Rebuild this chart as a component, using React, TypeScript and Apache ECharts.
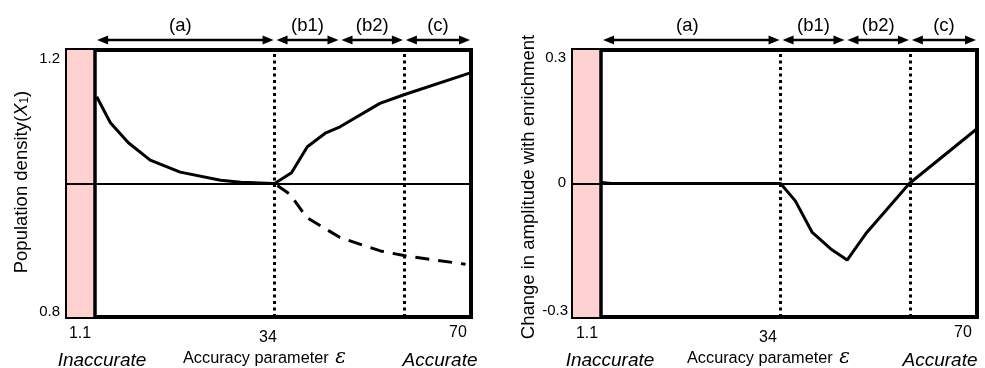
import React, { useEffect, useRef } from "react";
import * as echarts from "echarts";

// ---------- data ----------
const densityEps = [1.4, 3.9, 7.2, 11.2, 16.7, 24.1, 27.8, 33.6, 34, 37.1, 40.0, 43.4, 46, 53.3, 57.7, 70];
const densityUpper = [1.13, 1.091, 1.061, 1.035, 1.017, 1.005, 1.002, 1.0, 1.0, 1.016, 1.055, 1.076, 1.085, 1.12, 1.133, 1.166];
const densityLowerEps = [34.5, 36.8, 39.9, 46, 53.4, 57.7, 69];
const densityLower = [0.997, 0.984, 0.949, 0.919, 0.899, 0.892, 0.879];
const ampEps = [1.1, 3, 34, 36.7, 39.8, 43.2, 46.2, 49.6, 57.6, 70];
const ampChange = [0.002, 0, 0, -0.039, -0.11, -0.147, -0.172, -0.113, 0, 0.123];

const xMin = -4.05;
const xMax = 70;
const inaccurateEdge = 1.1;
const dottedLines = [34, 57.7];
const regionBounds = [1.1, 34, 45.9, 57.7, 70];
const regionLabels = ["(a)", "(b1)", "(b2)", "(c)"];
const xTickLabels = ["1.1", "34", "70"];
const leftYTicks = ["1.2", "0.8"];
const rightYTicks = ["0.3", "0", "-0.3"];

const FONT = "'Liberation Sans', Arial, Helvetica, sans-serif";

export default function App() {
  const ref = useRef<HTMLDivElement>(null);
  useEffect(() => {
    if (!ref.current) return;
    const chart = echarts.init(ref.current, null, { renderer: "svg" });

    const pinkArea = {
      silent: true,
      itemStyle: { color: "#ffd1d1" },
      data: [[{ xAxis: xMin }, { xAxis: inaccurateEdge }]],
    };
    const markLines = (zeroY: number) => ({
      silent: true,
      symbol: "none",
      label: { show: false },
      data: [
        ...dottedLines.map((v) => ({ xAxis: v, lineStyle: { type: [3, 3.5], width: 3, color: "#000" } })),
        { xAxis: inaccurateEdge, lineStyle: { type: "solid", width: 3.5, color: "#000" } },
        { yAxis: zeroY, lineStyle: { type: "solid", width: 1.8, color: "#000" } },
      ],
    });

    const axisCommon = {
      type: "value" as const,
      axisLabel: { show: false },
      axisTick: { show: false },
      axisLine: { show: false },
      splitLine: { show: false },
    };

    chart.setOption({
      animation: false,
      grid: [
        { left: 67, right: 514, top: 50, bottom: 51, show: true, borderColor: "#000", borderWidth: 4, backgroundColor: "#fff" },
        { left: 573, right: 8, top: 50, bottom: 51, show: true, borderColor: "#000", borderWidth: 4, backgroundColor: "#fff" },
      ],
      xAxis: [
        { ...axisCommon, gridIndex: 0, min: xMin, max: xMax },
        { ...axisCommon, gridIndex: 1, min: xMin, max: xMax },
      ],
      yAxis: [
        { ...axisCommon, gridIndex: 0, min: 0.8, max: 1.2 },
        { ...axisCommon, gridIndex: 1, min: -0.3, max: 0.3 },
      ],
      series: [
        {
          type: "line",
          xAxisIndex: 0,
          yAxisIndex: 0,
          data: densityEps.map((e, i) => [e, densityUpper[i]]),
          showSymbol: false,
          lineStyle: { color: "#000", width: 3 },
          markArea: pinkArea,
          markLine: markLines(1.0),
          z: 5,
        },
        {
          type: "line",
          xAxisIndex: 0,
          yAxisIndex: 0,
          data: densityLowerEps.map((e, i) => [e, densityLower[i]]),
          showSymbol: false,
          lineStyle: { color: "#000", width: 3, type: [14, 9] },
          z: 5,
        },
        {
          type: "line",
          xAxisIndex: 1,
          yAxisIndex: 1,
          data: ampEps.map((e, i) => [e, ampChange[i]]),
          showSymbol: false,
          lineStyle: { color: "#000", width: 3 },
          markArea: pinkArea,
          markLine: markLines(0),
          z: 5,
        },
      ],
    });

    const graphics: any[] = [];
    const arrowY = 40;
    const addArrows = (gridIndex: number, labelY: number, labelShift: number) => {
      for (let i = 0; i < regionLabels.length; i++) {
        const x1 = chart.convertToPixel({ gridIndex } as any, [regionBounds[i], 1])[0] + 2;
        const x2 = chart.convertToPixel({ gridIndex } as any, [regionBounds[i + 1], 1])[0] - 1;
        const head = 11;
        const hw = 4.5;
        graphics.push({
          type: "line",
          shape: { x1: x1 + head - 1, y1: arrowY, x2: x2 - head + 1, y2: arrowY },
          style: { stroke: "#000", lineWidth: 2.6 },
        });
        graphics.push({
          type: "polygon",
          shape: { points: [[x1, arrowY], [x1 + head, arrowY - hw], [x1 + head, arrowY + hw]] },
          style: { fill: "#000" },
        });
        graphics.push({
          type: "polygon",
          shape: { points: [[x2, arrowY], [x2 - head, arrowY - hw], [x2 - head, arrowY + hw]] },
          style: { fill: "#000" },
        });
        graphics.push({
          type: "text",
          x: (x1 + x2) / 2 + (i === 0 ? labelShift : 0),
          y: labelY,
          style: { text: regionLabels[i], font: `18.5px ${FONT}`, fill: "#000", align: "center", verticalAlign: "middle" },
        });
      }
    };
    addArrows(0, 24, -5);
    addArrows(1, 24, -4);

    const txt = (text: string, x: number, y: number, size: number, extra: any = {}) => ({
      type: "text",
      x,
      y,
      style: { text, font: `${size}px ${FONT}`, fill: "#000", align: "center", verticalAlign: "middle", ...extra },
    });

    // x tick labels
    const tickXLeft = [80, 268, 458];
    const tickXRight = [587, 768, 963];
    const tickY = [332, 336, 331];
    xTickLabels.forEach((t, i) => {
      graphics.push(txt(t, tickXLeft[i], tickY[i], 16));
      graphics.push(txt(t, tickXRight[i], tickY[i], 16));
    });
    // y tick labels
    graphics.push(txt(leftYTicks[0], 60, 57, 15, { align: "right" }));
    graphics.push(txt(leftYTicks[1], 60, 310, 15, { align: "right" }));
    graphics.push(txt(rightYTicks[0], 566, 56, 15, { align: "right" }));
    graphics.push(txt(rightYTicks[1], 566, 181, 15, { align: "right" }));
    graphics.push(txt(rightYTicks[2], 568, 309, 15, { align: "right" }));

    // bottom labels
    const bottomLabels = (cInacc: number, paramLeft: number, cAcc: number) => {
      graphics.push(txt("Inaccurate", cInacc, 359, 19, { font: `italic 19px ${FONT}` }));
      graphics.push(txt("Accurate", cAcc, 359, 19, { font: `italic 19px ${FONT}` }));
      graphics.push({
        type: "text",
        x: paramLeft,
        y: 357,
        style: {
          text: "Accuracy parameter {e|ε}",
          font: `16.3px ${FONT}`,
          fill: "#000",
          align: "left",
          verticalAlign: "middle",
          rich: { e: { font: `italic 20px 'DejaVu Serif', serif`, fill: "#000", padding: [0, 0, 2, 2] } },
        },
      });
    };
    bottomLabels(102, 183, 440);
    bottomLabels(610, 687, 940);

    // y axis names
    graphics.push({
      type: "text",
      x: 20,
      y: 182,
      rotation: Math.PI / 2,
      style: {
        text: "Population density({i|X}{s|1})",
        font: `18.5px ${FONT}`,
        fill: "#000",
        align: "center",
        verticalAlign: "middle",
        rich: {
          i: { font: `italic 18.5px ${FONT}`, fill: "#000" },
          s: { font: `12px ${FONT}`, fill: "#000", verticalAlign: "bottom" },
        },
      },
    });
    graphics.push({
      type: "text",
      x: 527,
      y: 187,
      rotation: Math.PI / 2,
      style: {
        text: "Change in amplitude with enrichment",
        font: `18.5px ${FONT}`,
        fill: "#000",
        align: "center",
        verticalAlign: "middle",
      },
    });

    chart.setOption({ graphic: graphics });

    return () => chart.dispose();
  }, []);

  return <div ref={ref} style={{ position: "fixed", left: 0, top: 0, width: 985, height: 368 }} />;
}
